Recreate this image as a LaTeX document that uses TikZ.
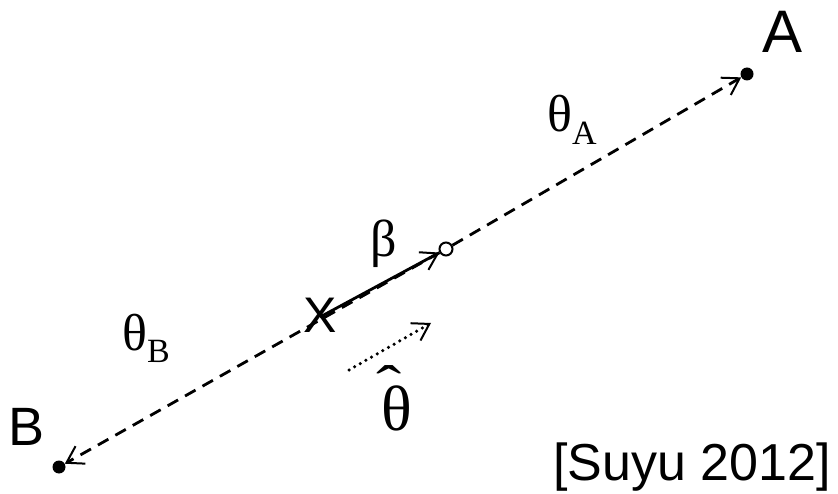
\documentclass[tikz,border=0pt]{standalone}
\usepackage{fontspec}
\setmainfont{Liberation Serif}
\newfontfamily\sansf{Liberation Sans}
\usetikzlibrary{arrows.meta}
\tikzset{
  dot/.style={circle,fill=black,inner sep=0pt,minimum size=13pt},
  odot/.style={circle,draw=black,fill=white,line width=2pt,inner sep=0pt,minimum size=13pt},
  ray/.style={line width=2.8pt,dash pattern=on 12pt off 8pt,-{Straight Barb[length=16pt,width=20pt,line width=2pt]}},
  barb/.style={-{Straight Barb[length=16pt,width=20pt,line width=2pt]}},
  lbl/.style={inner sep=0pt,anchor=base},
}
\newcommand{\subl}[1]{\raisebox{-13pt}{\fontsize{34}{34}\selectfont #1}}
\begin{document}
\begin{tikzpicture}[x=1pt,y=-1pt]
\useasboundingbox (0,0) rectangle (838,494);
\node[dot] (A) at (747,74) {};
\node[dot] (B) at (59,467) {};
\node[odot] (S) at (446,249) {};
\coordinate (X) at (320,317);
\node[lbl,font=\sansf\fontsize{50}{50}\selectfont] (Xl) at (320,333) {X};
\node[lbl,font=\sansf\fontsize{60}{60}\selectfont] (Al) at (783,53) {A};
\node[lbl,font=\sansf\fontsize{54}{54}\selectfont] (Bl) at (27,445) {B};
\node[lbl,font=\sansf\fontsize{52}{52}\selectfont] (cite) at (692,480) {[Suyu 2012]};
\node[lbl,anchor=base west,font=\fontsize{52}{52}\selectfont] (tA) at (547,132) {θ\subl{A}};
\node[lbl,anchor=base west,font=\fontsize{52}{52}\selectfont] (tB) at (122,350) {θ\subl{B}};
\node[lbl,anchor=base west,font=\fontsize{52}{52}\selectfont] (be) at (370,257) {β};
\node[lbl,font=\fontsize{64}{64}\selectfont] (th) at (397,430) {θ};
\node[lbl,font=\fontsize{56}{56}\selectfont] (hat) at (389,404) {\scalebox{1.35}[1]{ˆ}};
\draw[ray] (S) -- (A);
\draw[ray] (S) -- (B);
\draw[barb,line width=2.8pt] (X) -- (S);
\coordinate (d1) at (349,370);
\coordinate (d2) at (431,323);
\draw[barb,line width=3.5pt,line cap=round,dash pattern=on 0pt off 6.5pt] (d1) -- (d2);
\end{tikzpicture}
\end{document}
